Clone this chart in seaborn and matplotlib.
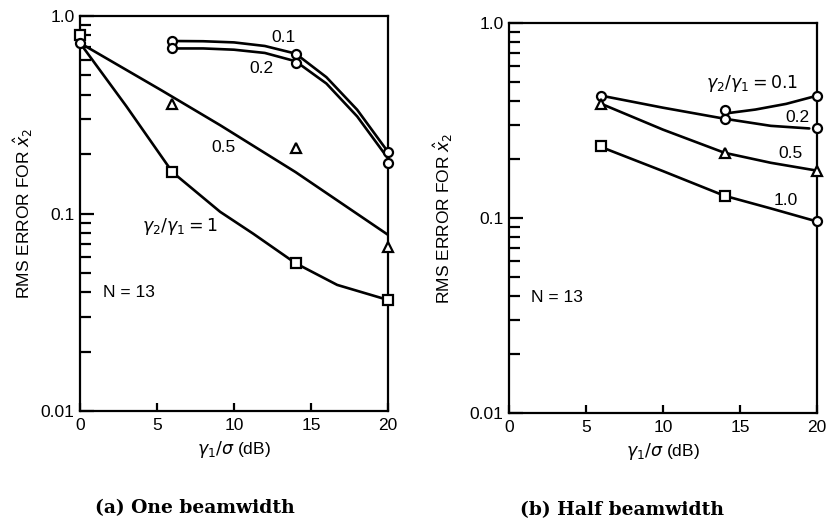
import numpy as np
import pandas as pd
import matplotlib
matplotlib.use("Agg")
import matplotlib.pyplot as plt
import seaborn as sns
from matplotlib.ticker import LogLocator, NullFormatter, FixedLocator, FixedFormatter

# ---- (a) one beamwidth: curves ----
a_curve_x = {
    "1": [0, 3, 6, 9.1, 11.25, 14, 16.7, 20],
    "0.5": [0, 5.3, 9.1, 14, 20],
    "0.1": [6, 8, 10, 12, 14, 16, 18, 20],
    "0.2": [6, 8, 10, 12, 14, 16, 18, 20],
}
a_curve_y = {
    "1": [0.73, 0.35, 0.162, 0.102, 0.079, 0.056, 0.0435, 0.0365],
    "0.5": [0.73, 0.42, 0.28, 0.162, 0.078],
    "0.1": [0.747, 0.745, 0.735, 0.705, 0.645, 0.49, 0.335, 0.205],
    "0.2": [0.685, 0.685, 0.675, 0.65, 0.59, 0.455, 0.31, 0.19],
}
# simulation points
a_sq_x = [0, 6, 14, 20]
a_sq_y = [0.80, 0.162, 0.056, 0.0365]
a_circ_x = [0, 6, 6, 14, 14, 20, 20]
a_circ_y = [0.73, 0.75, 0.685, 0.645, 0.58, 0.205, 0.18]
a_tri_x = [6, 14, 20]
a_tri_y = [0.357, 0.215, 0.068]

# ---- (b) half beamwidth ----
b_curve_x = {
    "0.2": [6, 10, 14, 17, 19.5],
    "0.1": [14.2, 16, 18, 20],
    "0.5": [6, 10, 14, 17, 20],
    "1.0": [6, 10, 14, 17, 20],
}
b_curve_y = {
    "0.2": [0.424, 0.368, 0.323, 0.297, 0.288],
    "0.1": [0.345, 0.36, 0.385, 0.424],
    "0.5": [0.385, 0.284, 0.216, 0.192, 0.175],
    "1.0": [0.231, 0.174, 0.130, 0.112, 0.096],
}
b_circ_x = [6, 14, 14, 20, 20, 20]
b_circ_y = [0.424, 0.359, 0.323, 0.424, 0.290, 0.096]
b_tri_x = [6, 14, 20]
b_tri_y = [0.385, 0.216, 0.175]
b_sq_x = [6, 14]
b_sq_y = [0.235, 0.130]

x_ticks = [0, 5, 10, 15, 20]
y_ticks = [0.01, 0.1, 1.0]
y_tick_labels = ["0.01", "0.1", "1.0"]

sns.set_theme(style="ticks")
plt.rcParams["font.family"] = ["Liberation Sans", "DejaVu Sans"]
plt.rcParams["mathtext.fontset"] = "dejavusans"
plt.rcParams["text.color"] = "black"
plt.rcParams["axes.labelcolor"] = "black"
plt.rcParams["xtick.color"] = "black"
plt.rcParams["ytick.color"] = "black"

LW = 1.9
MS = 6.5
FS = 12.5


def style_axes(ax):
    ax.set_yscale("log")
    ax.set_xlim(0, 20)
    ax.set_ylim(0.01, 1.0)
    ax.xaxis.set_major_locator(FixedLocator(x_ticks))
    ax.yaxis.set_major_locator(FixedLocator(y_ticks))
    ax.yaxis.set_major_formatter(FixedFormatter(y_tick_labels))
    ax.yaxis.set_minor_locator(LogLocator(base=10, subs=np.arange(2, 10)))
    ax.yaxis.set_minor_formatter(NullFormatter())
    ax.tick_params(axis="both", which="both", direction="in", color="black",
                   width=1.6, labelsize=FS, labelcolor="black")
    ax.tick_params(axis="y", which="major", length=10, pad=4)
    ax.tick_params(axis="y", which="minor", length=8)
    ax.tick_params(axis="x", which="major", length=6, pad=5)
    ax.tick_params(right=False, top=False, which="both")
    for s in ax.spines.values():
        s.set_visible(True)
        s.set_color("black")
        s.set_linewidth(1.6)
    ax.set_xlabel(r"$\gamma_1/\sigma$ (dB)", fontsize=FS, color="black")
    ax.set_ylabel(r"RMS ERROR FOR $\hat{x}_2$", fontsize=FS, color="black")
    ax.grid(False)


def draw_curves(ax, cx, cy):
    for key in cx:
        df = pd.DataFrame({"x": cx[key], "y": cy[key]})
        sns.lineplot(data=df, x="x", y="y", ax=ax, color="black",
                     linewidth=LW, estimator=None, sort=False, legend=False)


def draw_points(ax, xs, ys, marker):
    df = pd.DataFrame({"x": xs, "y": ys})
    ax.plot(df["x"], df["y"], linestyle="none", marker=marker, ms=MS,
            mfc="white", mec="black", mew=1.6, zorder=5, clip_on=False)


fig = plt.figure(figsize=(8.28, 5.26), dpi=100)
ax1 = fig.add_axes([0.0966, 0.2186, 0.372, 0.751])
ax2 = fig.add_axes([0.6147, 0.2148, 0.372, 0.7414])

# panel (a)
draw_curves(ax1, a_curve_x, a_curve_y)
draw_points(ax1, a_sq_x, a_sq_y, "s")
draw_points(ax1, a_circ_x, a_circ_y, "o")
draw_points(ax1, a_tri_x, a_tri_y, "^")
style_axes(ax1)
ax1.yaxis.set_label_coords(-0.145, 0.5)
ax1.text(13.2, 0.78, "0.1", fontsize=FS, ha="center", va="center")
ax1.text(11.8, 0.545, "0.2", fontsize=FS, ha="center", va="center")
ax1.text(9.3, 0.217, "0.5", fontsize=FS, ha="center", va="center")
ax1.text(6.5, 0.086, r"$\gamma_2/\gamma_1=1$", fontsize=FS, ha="center", va="center")
ax1.text(1.5, 0.0396, "N = 13", fontsize=FS, ha="left", va="center")

# panel (b)
draw_curves(ax2, b_curve_x, b_curve_y)
draw_points(ax2, b_circ_x, b_circ_y, "o")
draw_points(ax2, b_tri_x, b_tri_y, "^")
draw_points(ax2, b_sq_x, b_sq_y, "s")
style_axes(ax2)
ax2.yaxis.set_label_coords(-0.175, 0.5)
ax2.text(15.8, 0.487, r"$\gamma_2/\gamma_1=0.1$", fontsize=FS, ha="center", va="center")
ax2.text(18.7, 0.327, "0.2", fontsize=FS, ha="center", va="center")
ax2.text(18.3, 0.214, "0.5", fontsize=FS, ha="center", va="center")
ax2.text(18.0, 0.123, "1.0", fontsize=FS, ha="center", va="center")
ax2.text(1.4, 0.039, "N = 13", fontsize=FS, ha="left", va="center")

fig.text(195 / 828, 1 - 508 / 526, "(a) One beamwidth", family="DejaVu Serif",
         fontweight="bold", fontsize=13.5, ha="center", va="center")
fig.text(622 / 828, 1 - 510 / 526, "(b) Half beamwidth", family="DejaVu Serif",
         fontweight="bold", fontsize=13.5, ha="center", va="center")

fig.savefig("out.png", dpi=100)
plt.close(fig)
